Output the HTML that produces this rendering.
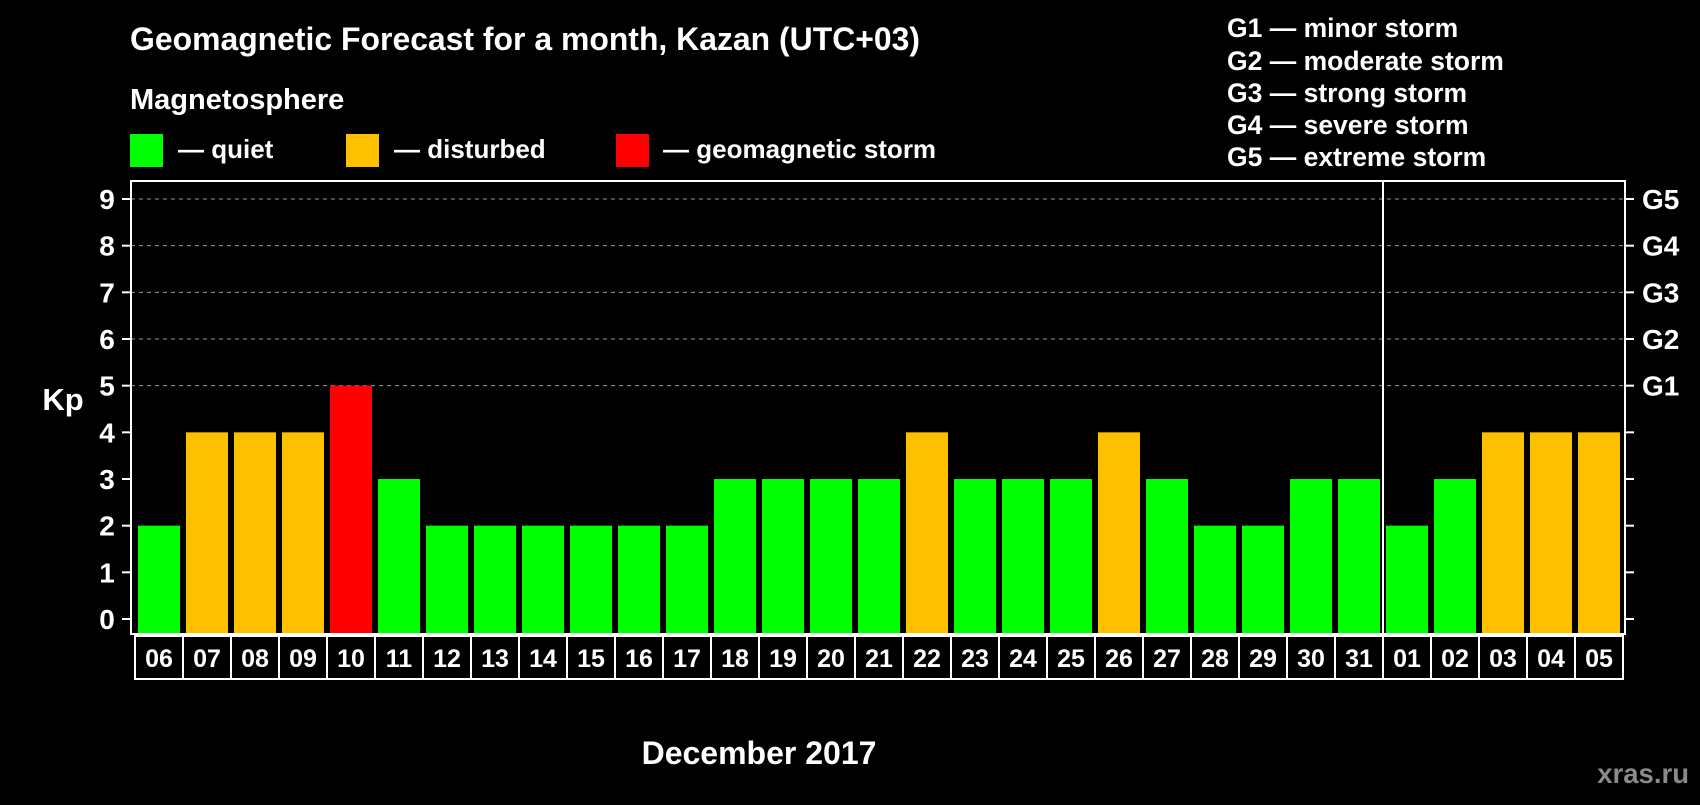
<!DOCTYPE html>
<html><head><meta charset="utf-8"><style>
body{margin:0;background:#000;width:1700px;height:800px;overflow:hidden}
svg text{font-family:"Liberation Sans",sans-serif;font-weight:bold;fill:#fff}
</style></head><body>
<svg id="c" width="1700" height="800">
<text x="130" y="50" font-size="32" textLength="790" lengthAdjust="spacingAndGlyphs">Geomagnetic Forecast for a month, Kazan (UTC+03)</text>
<text x="130" y="109" font-size="29">Magnetosphere</text>
<rect x="130" y="134" width="33" height="33" fill="#00ff00"/>
<text x="178" y="158" font-size="26">— quiet</text>
<rect x="346" y="134" width="33" height="33" fill="#ffc000"/>
<text x="394" y="158" font-size="26">— disturbed</text>
<rect x="616" y="134" width="33" height="33" fill="#ff0000"/>
<text x="663" y="158" font-size="26">— geomagnetic storm</text>
<g font-size="26.5">
<text x="1227" y="37">G1 — minor storm</text>
<text x="1227" y="70">G2 — moderate storm</text>
<text x="1227" y="102">G3 — strong storm</text>
<text x="1227" y="134">G4 — severe storm</text>
<text x="1227" y="166">G5 — extreme storm</text>
</g>
<text x="63" y="410" font-size="31" text-anchor="middle">Kp</text>
<text x="759" y="764" font-size="32" text-anchor="middle">December 2017</text>
<text x="1689" y="783" font-size="27.5" text-anchor="end" style="fill:#8a8a8a">xras.ru</text>
<g id="plot"></g>
</svg>
<script>
const days=["06","07","08","09","10","11","12","13","14","15","16","17","18","19","20","21","22","23","24","25","26","27","28","29","30","31","01","02","03","04","05"];
const kp=[2,4,4,4,5,3,2,2,2,2,2,2,3,3,3,3,4,3,3,3,4,3,2,2,3,3,2,3,4,4,4];
const yTicks=[0,1,2,3,4,5,6,7,8,9];
const gLabels=["G1","G2","G3","G4","G5"];
const gLevels=[5,6,7,8,9];
const monthBreak=26;
const NS="http://www.w3.org/2000/svg";
const L=131,R=1625,T=181,B=634;
const y=v=>619-v*(420/9);
const x=i=>138+i*48;
const g=document.getElementById('plot');
function mk(t,a){const e=document.createElementNS(NS,t);for(const k in a)e.setAttribute(k,a[k]);g.appendChild(e);return e;}
yTicks.forEach(v=>{
 if(v>=5){const l=mk('line',{x1:L,x2:R,y1:y(v),y2:y(v),stroke:'#999','stroke-dasharray':'4,4','stroke-width':1});
 
 }
 const t=mk('line',{x1:122,x2:L,y1:y(v),y2:y(v),stroke:'#fff','stroke-width':2});
 
 
 const t2=mk('line',{x1:R,x2:1634,y1:y(v),y2:y(v),stroke:'#fff','stroke-width':2});
 
 
 const tx=mk('text',{x:107,y:y(v)+10,'font-size':28,'text-anchor':'middle'});tx.textContent=v;
 
 
});
gLabels.forEach((s,i)=>{const tx=mk('text',{x:1642,y:y(gLevels[i])+10,'font-size':28});tx.textContent=s;
 
 });
kp.forEach((v,i)=>{
 const c=v>=5?'#ff0000':v>=4?'#ffc000':'#00ff00';
 const r=mk('rect',{x:x(i),y:y(v),width:42,height:B-1-y(v),fill:c});
 
 
 const b=mk('rect',{x:x(i)-3,y:636,width:48,height:43,fill:'none',stroke:'#fff','stroke-width':2});
 
 
 const tx=mk('text',{x:x(i)+21,y:667,'font-size':25,'text-anchor':'middle'});tx.textContent=days[i];
 
 
});
const fr=mk('rect',{x:L,y:T,width:R-L,height:B-T,fill:'none',stroke:'#fff','stroke-width':2});


const sep=mk('line',{x1:x(monthBreak)-3,x2:x(monthBreak)-3,y1:T,y2:B,stroke:'#fff','stroke-width':2});


</script>
</body></html>
